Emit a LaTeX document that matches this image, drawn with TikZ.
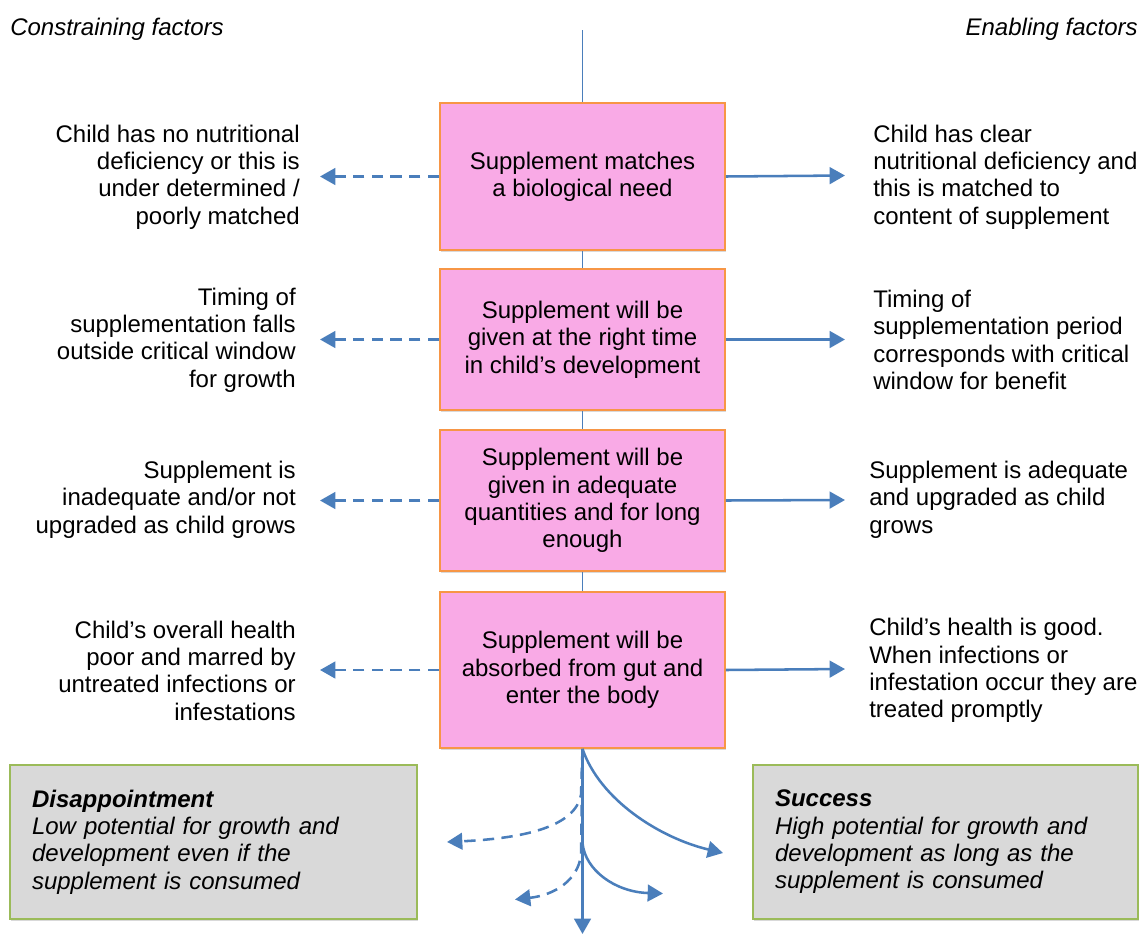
\documentclass[tikz,border=0pt]{standalone}
\usepackage{fontspec}
\setmainfont{Liberation Sans}
\usetikzlibrary{arrows.meta,shadows}
\definecolor{pinkfill}{RGB}{249,170,230}
\definecolor{orangeb}{RGB}{247,150,70}
\definecolor{grayfill}{RGB}{217,217,217}
\definecolor{greenb}{RGB}{155,187,89}
\definecolor{blueline}{RGB}{74,126,187}
\begin{document}
\begin{tikzpicture}[x=0.75pt,y=-0.75pt,
  every node/.style={font=\fontsize{18}{20.5}\selectfont},
  factorbox/.style={draw=orangeb, line width=1.4pt, fill=pinkfill, minimum width=213.75pt,
    align=center, inner sep=0pt,
    drop shadow={shadow xshift=1pt,shadow yshift=-1.8pt,opacity=0.3}},
  outcome/.style={draw=greenb, line width=1.4pt, fill=grayfill, minimum height=115.5pt,
    align=left, inner xsep=16.5pt, inner ysep=0pt,
    drop shadow={shadow xshift=1pt,shadow yshift=-1.8pt,opacity=0.3}},
  lefttext/.style={anchor=east, align=right, inner sep=0pt},
  righttext/.style={anchor=west, align=left, inner sep=0pt},
  spine/.style={draw=blueline, line width=1.1pt},
  enable/.style={draw=blueline, line width=1.9pt, -{Triangle[length=11.5pt,width=12.5pt]}},
  constrain/.style={enable, dash pattern=on 8.5pt off 5.5pt},
]
\useasboundingbox (0,0) rectangle (1142,935);

% header labels
\node[anchor=west, inner sep=0pt] (hl) at (10,29.5) {\textit{Constraining factors}};
\node[anchor=east, inner sep=0pt] (hr) at (1138,29.5) {\textit{Enabling factors}};

% spine coordinates
\coordinate (top) at (582.5,30);
\coordinate (bot) at (582.5,934);

% spine behind boxes
\draw[spine] (top) -- (582.5,110);
\draw[spine] (582.5,240) -- (582.5,280);
\draw[spine] (582.5,400) -- (582.5,440);
\draw[spine] (582.5,560) -- (582.5,600);

% factor boxes
\node[factorbox, minimum height=110.25pt] (b1) at (582.5,176.5) {Supplement matches\\a biological need};
\node[factorbox, minimum height=105.75pt] (b2) at (582.5,339.5) {Supplement will be\\given at the right time\\in child’s development};
\node[factorbox, minimum height=105.75pt] (b3) at (582.5,500.5) {Supplement will be\\given in adequate\\quantities and for long\\enough};
\node[factorbox, minimum height=117pt] (b4) at (582.5,670) {Supplement will be\\absorbed from gut and\\enter the body};

% constraining texts
\node[lefttext] (l1) at (300,177) {Child has no nutritional\\deficiency or this is\\under determined /\\poorly matched};
\node[lefttext] (l2) at (296,340) {Timing of\\supplementation falls\\outside critical window\\for growth};
\node[lefttext] (l3) at (296,499.5) {Supplement is\\inadequate and/or not\\upgraded as child grows};
\node[lefttext] (l4) at (296,670.5) {Child’s overall health\\poor and marred by\\untreated infections or\\infestations};

% enabling texts
\node[righttext] (r1) at (873,177) {Child has clear\\nutritional deficiency and\\this is matched to\\content of supplement};
\node[righttext] (r2) at (873,340) {Timing of\\supplementation period\\corresponds with critical\\window for benefit};
\node[righttext] (r3) at (869,499.5) {Supplement is adequate\\and upgraded as child\\grows};
\node[righttext] (r4) at (869,670.5) {Child’s health is good.\\When infections or\\infestation occur they are\\treated promptly};

% arrow end coordinates
\coordinate (la1) at (320,176.5);
\coordinate (la2) at (320,339.5);
\coordinate (la3) at (320,500.5);
\coordinate (la4) at (320,670);
\coordinate (ra1) at (845,175.5);
\coordinate (ra2) at (845,339.5);
\coordinate (ra3) at (845,500);
\coordinate (ra4) at (845,669);

\draw[constrain] (b1.west) -- (la1);
\draw[constrain] (b2.west) -- (la2);
\draw[constrain] (b3.west) -- (la3);
\draw[constrain] (b4.west) -- (la4);
\draw[enable] (b1.east) -- (ra1);
\draw[enable] (b2.east) -- (ra2);
\draw[enable] (b3.east) -- (ra3);
\draw[enable] (b4.east) -- (ra4);

% outcome boxes
\node[outcome, text width=272.25pt] (dis) at (213.5,842) {\textbf{\textit{Disappointment}}\\\textit{Low potential for growth and}\\\textit{development even if the}\\\textit{supplement is consumed}};
\node[outcome, text width=255.75pt] (suc) at (945.5,842) {\textbf{\textit{Success}}\\\textit{High potential for growth and}\\\textit{development as long as the}\\\textit{supplement is consumed}};

% bottom fan
\coordinate (fork) at (582.5,843);
\coordinate (sbig) at (723,853);
\coordinate (ssmall) at (663,893.5);
\coordinate (dbig) at (447,842);
\coordinate (dsmall) at (515,899.5);

\draw[enable] (b4.south) -- (bot);
\draw[enable] (b4.south) .. controls (600,800) and (660,838) .. (sbig);
\draw[enable] (fork) .. controls (585,870) and (615,892) .. (ssmall);
\draw[constrain] (b4.south) -- (581,795) .. controls (575,825) and (530,838) .. (dbig);
\draw[constrain] (b4.south) -- (581,855) .. controls (578,880) and (555,895) .. (dsmall);
\end{tikzpicture}
\end{document}
